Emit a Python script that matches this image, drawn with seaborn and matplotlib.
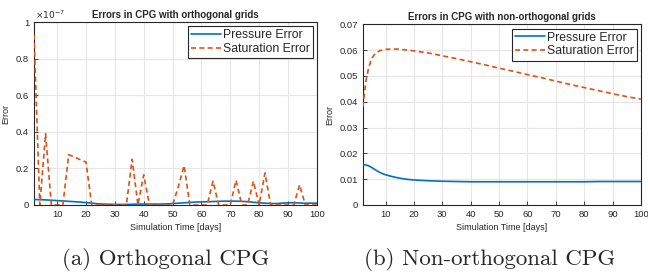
import matplotlib
matplotlib.use("Agg")
import matplotlib.pyplot as plt
from matplotlib.lines import Line2D
import numpy as np
import pandas as pd
import seaborn as sns

# (a) orthogonal grids, every 2 days, errors in units of 1e-7
days_a = list(range(2, 101, 2))
sat_a = [0.93, 0, 0.39, 0, 0, 0, 0.275, 0.262, 0.248, 0.235,
         0, 0, 0, 0, 0, 0, 0, 0.25, 0, 0.165,
         0, 0, 0, 0, 0, 0.10, 0.215, 0, 0, 0,
         0, 0.13, 0, 0, 0, 0.135, 0, 0, 0.13, 0,
         0.175, 0, 0, 0, 0, 0, 0.11, 0, 0, 0]
pres_a = [0.030, 0.029, 0.028, 0.026, 0.024, 0.022, 0.020, 0.018, 0.016, 0.013,
          0.010, 0.007, 0.005, 0.004, 0.003, 0.003, 0.003, 0.004, 0.005, 0.005,
          0.005, 0.005, 0.005, 0.006, 0.008, 0.010, 0.012, 0.014, 0.016, 0.017,
          0.018, 0.019, 0.020, 0.021, 0.021, 0.021, 0.020, 0.018, 0.015, 0.012,
          0.010, 0.008, 0.008, 0.010, 0.012, 0.012, 0.011, 0.010, 0.010, 0.010]

# (b) non-orthogonal grids
days_b = [2, 3, 4, 5, 6, 7, 8, 9, 10, 12, 14, 16, 18, 20, 25, 30, 35, 40, 45, 50,
          55, 60, 65, 70, 75, 80, 85, 90, 95, 100]
sat_b = [0.038, 0.0475, 0.053, 0.0565, 0.0582, 0.0592, 0.0598, 0.0601, 0.0603, 0.0604,
         0.0604, 0.0602, 0.0600, 0.0597, 0.0589, 0.0578, 0.0567, 0.0555, 0.0543, 0.0530,
         0.0518, 0.0505, 0.0493, 0.0480, 0.0467, 0.0455, 0.0443, 0.0431, 0.0420, 0.0410]
pres_b = [0.0157, 0.0155, 0.0152, 0.0146, 0.0139, 0.0132, 0.0126, 0.0121, 0.0117, 0.0111,
          0.0106, 0.0102, 0.0099, 0.0097, 0.0094, 0.0092, 0.0091, 0.0090, 0.0090, 0.0090,
          0.0090, 0.0090, 0.0090, 0.0090, 0.0090, 0.0090, 0.0091, 0.0091, 0.0091, 0.0091]

labels = ["Pressure Error", "Saturation Error"]
blue = "#0072BD"
orange = "#D95319"
dash = (0, (3, 2))

sns.set_theme(style="white")
plt.rcParams["font.family"] = ["Liberation Sans", "DejaVu Sans"]

fig = plt.figure(figsize=(6.48, 2.78), dpi=100)
ax1 = fig.add_axes([0.0525, 0.2626, 0.4365, 0.658])
ax2 = fig.add_axes([0.560, 0.2626, 0.429, 0.650])


def style(ax, title):
    ax.grid(True, color="#e6e6e6", lw=0.8)
    ax.set_axisbelow(True)
    for s in ax.spines.values():
        s.set_color("#262626")
        s.set_linewidth(0.8)
    ax.tick_params(direction="in", length=3, width=0.6, color="#262626",
                   labelsize=6.8, pad=3.5, bottom=True, left=True)
    ax.set_xlim(2, 100)
    ax.set_xticks(range(10, 101, 10))
    ax.set_xlabel("Simulation Time [days]", fontsize=6.5, labelpad=3)
    ax.set_ylabel("Error", fontsize=6.5, labelpad=4)
    ax.set_title(title, fontsize=7, fontweight="bold", pad=3)
    handles = [Line2D([], [], color=blue, lw=1.2),
               Line2D([], [], color=orange, lw=1.2, linestyle=dash)]
    leg = ax.legend(handles, labels, loc="upper right", fontsize=8.8, frameon=True,
                    fancybox=False, borderpad=0.25, handlelength=2.4, handletextpad=0.15,
                    labelspacing=0.15, borderaxespad=0.35, framealpha=1)
    leg.get_frame().set_edgecolor("#262626")
    leg.get_frame().set_linewidth(0.8)


sns.lineplot(x=days_a, y=np.array(pres_a) * 1e-7, ax=ax1, color=blue, lw=1.2, zorder=3)
sns.lineplot(x=days_a, y=np.array(sat_a) * 1e-7, ax=ax1, color=orange, lw=1.2,
             linestyle=dash, zorder=3)
ax1.set_ylim(0, 1e-7)
ax1.set_yticks(np.arange(0, 1.01, 0.2) * 1e-7)
ax1.set_yticklabels(["0", "0.2", "0.4", "0.6", "0.8", "1"])
ax1.text(0.005, 1.005, r"$\times10^{-7}$", transform=ax1.transAxes, fontsize=6.5,
         ha="left", va="bottom", color="#262626")
style(ax1, "Errors in CPG with orthogonal grids")

sns.lineplot(x=days_b, y=pres_b, ax=ax2, color=blue, lw=1.2, zorder=3)
sns.lineplot(x=days_b, y=sat_b, ax=ax2, color=orange, lw=1.2, linestyle=dash, zorder=3)
ax2.set_ylim(0, 0.07)
ax2.set_yticks(np.arange(0, 0.071, 0.01))
ax2.set_yticklabels(["0", "0.01", "0.02", "0.03", "0.04", "0.05", "0.06", "0.07"])
style(ax2, "Errors in CPG with non-orthogonal grids")

fig.text(0.2556, 0.068, "(a) Orthogonal CPG", fontsize=16.5, family="cmr10",
         ha="center", va="center")
fig.text(0.756, 0.068, "(b) Non-orthogonal CPG", fontsize=16.5, family="cmr10",
         ha="center", va="center")

fig.savefig("out.png", dpi=100)
